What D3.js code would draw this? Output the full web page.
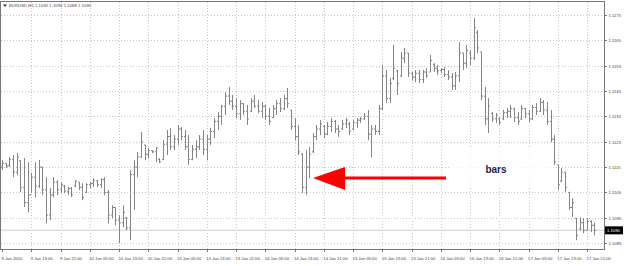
<!DOCTYPE html>
<html>
<head>
<meta charset="utf-8">
<script src="https://cdn.jsdelivr.net/npm/d3@7"></script>
<style>
  body { margin: 0; background: #fff; }
  svg { display: block; }
  .axis text { font-family: "Liberation Sans", Arial, sans-serif; font-size: 4.2px; fill: #444; }
  .axis path, .axis line { stroke: #777; shape-rendering: crispEdges; }
</style>
</head>
<body>
<script>
// EURUSD H1, 9 Jan 05:00 .. 17 Jan 23:00 (one entry per hourly bar)
const barOpen = [1.11150,1.11165,1.11155,1.11180,1.11130,1.11175,1.11070,1.11010,1.11040,1.11110,
1.11075,1.11150,1.11060,1.10960,1.11040,1.11090,1.11060,1.11075,1.11055,1.11065,
1.11075,1.11090,1.11070,1.11050,1.11080,1.11085,1.11095,1.11080,1.11100,1.11050,
1.10960,1.10990,1.10940,1.10930,1.10950,1.10910,1.11120,1.11150,1.11190,1.11237,
1.11200,1.11215,1.11210,1.11180,1.11180,1.11240,1.11270,1.11230,1.11260,1.11300,
1.11270,1.11230,1.11180,1.11220,1.11230,1.11260,1.11220,1.11260,1.11290,1.11330,
1.11350,1.11390,1.11430,1.11410,1.11390,1.11360,1.11400,1.11370,1.11370,1.11410,
1.11390,1.11370,1.11390,1.11350,1.11345,1.11380,1.11400,1.11380,1.11420,1.11375,
1.11310,1.11270,1.11200,1.11070,1.11150,1.11210,1.11270,1.11300,1.11310,1.11280,
1.11310,1.11330,1.11300,1.11300,1.11320,1.11320,1.11300,1.11325,1.11335,1.11340,
1.11350,1.11280,1.11300,1.11290,1.11380,1.11510,1.11420,1.11500,1.11530,1.11510,
1.11580,1.11600,1.11520,1.11505,1.11520,1.11495,1.11525,1.11525,1.11555,1.11540,
1.11530,1.11535,1.11515,1.11505,1.11470,1.11510,1.11600,1.11560,1.11600,1.11580,
1.11680,1.11604,1.11430,1.11340,1.11360,1.11340,1.11340,1.11340,1.11365,1.11370,
1.11380,1.11345,1.11340,1.11380,1.11360,1.11340,1.11385,1.11370,1.11405,1.11375,
1.11330,1.11260,1.11158,1.11095,1.11130,1.11050,1.10990,1.10948,1.10905,1.10930,
1.10900,1.10935,1.10920];

const barHigh = [1.11177,1.11165,1.11189,1.11197,1.11205,1.11177,1.11185,1.11169,1.11126,1.11169,
1.11177,1.11150,1.11110,1.11067,1.11110,1.11098,1.11090,1.11079,1.11071,1.11071,
1.11098,1.11090,1.11086,1.11086,1.11090,1.11106,1.11098,1.11106,1.11110,1.11059,
1.10999,1.10992,1.10960,1.10999,1.10952,1.11138,1.11177,1.11209,1.11288,1.11237,
1.11225,1.11217,1.11229,1.11185,1.11256,1.11296,1.11304,1.11276,1.11316,1.11308,
1.11296,1.11276,1.11237,1.11256,1.11276,1.11296,1.11276,1.11304,1.11343,1.11367,
1.11395,1.11446,1.11466,1.11434,1.11422,1.11414,1.11402,1.11395,1.11422,1.11434,
1.11414,1.11407,1.11395,1.11383,1.11395,1.11414,1.11422,1.11434,1.11462,1.11375,
1.11343,1.11316,1.11205,1.11217,1.11229,1.11284,1.11316,1.11336,1.11316,1.11328,
1.11343,1.11336,1.11316,1.11336,1.11343,1.11328,1.11336,1.11343,1.11347,1.11363,
1.11375,1.11316,1.11316,1.11395,1.11553,1.11533,1.11501,1.11632,1.11533,1.11604,
1.11620,1.11600,1.11525,1.11533,1.11533,1.11533,1.11541,1.11592,1.11560,1.11553,
1.11541,1.11545,1.11533,1.11521,1.11525,1.11643,1.11600,1.11632,1.11612,1.11738,
1.11691,1.11604,1.11466,1.11422,1.11367,1.11363,1.11347,1.11375,1.11383,1.11395,
1.11383,1.11367,1.11395,1.11383,1.11375,1.11395,1.11402,1.11422,1.11414,1.11407,
1.11375,1.11276,1.11158,1.11146,1.11130,1.11051,1.11027,1.10948,1.10952,1.10948,
1.10948,1.10940,1.10930];

const barLow = [1.11138,1.11146,1.11150,1.11110,1.11118,1.11051,1.10992,1.10972,1.11047,1.11031,
1.11067,1.11039,1.10928,1.10940,1.11031,1.11039,1.11047,1.11047,1.11039,1.11031,
1.11071,1.11059,1.11019,1.11047,1.11067,1.11071,1.11071,1.11067,1.11039,1.10928,
1.10948,1.10920,1.10849,1.10912,1.10901,1.10861,1.10980,1.11110,1.11185,1.11177,
1.11185,1.11205,1.11169,1.11165,1.11177,1.11197,1.11217,1.11217,1.11237,1.11256,
1.11217,1.11158,1.11177,1.11185,1.11217,1.11197,1.11177,1.11237,1.11264,1.11296,
1.11316,1.11355,1.11395,1.11375,1.11343,1.11336,1.11355,1.11316,1.11367,1.11383,
1.11363,1.11343,1.11336,1.11316,1.11343,1.11355,1.11367,1.11375,1.11383,1.11296,
1.11256,1.11197,1.11047,1.11039,1.11106,1.11205,1.11256,1.11276,1.11264,1.11276,
1.11288,1.11284,1.11268,1.11296,1.11304,1.11276,1.11296,1.11304,1.11324,1.11336,
1.11256,1.11189,1.11276,1.11276,1.11375,1.11402,1.11402,1.11493,1.11434,1.11505,
1.11560,1.11505,1.11493,1.11485,1.11481,1.11481,1.11501,1.11525,1.11525,1.11513,
1.11521,1.11505,1.11493,1.11454,1.11454,1.11485,1.11533,1.11541,1.11553,1.11572,
1.11600,1.11414,1.11316,1.11284,1.11328,1.11324,1.11316,1.11336,1.11343,1.11343,
1.11328,1.11316,1.11336,1.11343,1.11328,1.11336,1.11355,1.11367,1.11355,1.11316,
1.11248,1.11158,1.11059,1.11090,1.11051,1.10980,1.10952,1.10861,1.10901,1.10889,
1.10901,1.10893,1.10880];

const barClose = [1.11165,1.11155,1.11180,1.11130,1.11190,1.11070,1.11010,1.11040,1.11110,1.11075,
1.11150,1.11060,1.10960,1.11040,1.11090,1.11060,1.11080,1.11055,1.11065,1.11040,
1.11095,1.11070,1.11030,1.11080,1.11085,1.11095,1.11080,1.11100,1.11050,1.10960,
1.10990,1.10940,1.10930,1.10970,1.10910,1.11120,1.11150,1.11190,1.11250,1.11200,
1.11215,1.11210,1.11225,1.11170,1.11240,1.11270,1.11230,1.11260,1.11300,1.11270,
1.11230,1.11180,1.11220,1.11230,1.11260,1.11220,1.11260,1.11290,1.11330,1.11350,
1.11390,1.11430,1.11410,1.11390,1.11360,1.11400,1.11370,1.11340,1.11410,1.11390,
1.11370,1.11390,1.11350,1.11330,1.11380,1.11400,1.11380,1.11420,1.11400,1.11310,
1.11270,1.11210,1.11070,1.11150,1.11200,1.11270,1.11300,1.11320,1.11280,1.11310,
1.11330,1.11300,1.11290,1.11320,1.11335,1.11290,1.11325,1.11335,1.11340,1.11350,
1.11280,1.11300,1.11290,1.11380,1.11510,1.11420,1.11480,1.11540,1.11480,1.11580,
1.11600,1.11520,1.11505,1.11520,1.11495,1.11525,1.11510,1.11570,1.11540,1.11530,
1.11535,1.11515,1.11505,1.11470,1.11510,1.11600,1.11560,1.11610,1.11580,1.11700,
1.11620,1.11430,1.11340,1.11390,1.11340,1.11355,1.11325,1.11365,1.11370,1.11380,
1.11345,1.11330,1.11380,1.11360,1.11340,1.11385,1.11370,1.11405,1.11375,1.11330,
1.11260,1.11170,1.11080,1.11130,1.11070,1.10990,1.11010,1.10880,1.10930,1.10900,
1.10935,1.10920,1.10900];

// time axis: a label every 8 bars
const tickBars = [0, 8, 16, 24, 32, 40, 48, 56, 64, 72, 80, 88, 96, 104, 112, 120, 128, 136, 144, 152, 160];
const tickLabels = ["9 Jan 2020", "9 Jan 13:00", "9 Jan 21:00", "10 Jan 05:00", "10 Jan 13:00", "10 Jan 21:00",
  "13 Jan 05:00", "13 Jan 13:00", "13 Jan 21:00", "14 Jan 05:00", "14 Jan 13:00", "14 Jan 21:00",
  "15 Jan 05:00", "15 Jan 13:00", "15 Jan 21:00", "16 Jan 05:00", "16 Jan 13:00", "16 Jan 21:00",
  "17 Jan 05:00", "17 Jan 13:00", "17 Jan 21:00"];
const priceTicks = [1.1085, 1.1095, 1.1105, 1.1115, 1.1125, 1.1135, 1.1145, 1.1155, 1.1165, 1.1175];

const symbol = "EURUSD,H1";
const lastPrice = 1.1090;

const width = 624, height = 266;
const plotLeft = 1, plotRight = 604, plotTop = 2, plotBottom = 249;

const svg = d3.select("body").append("svg")
  .attr("width", width)
  .attr("height", height);

const bars = barOpen.map((o, i) => ({ i: i, o: o, h: barHigh[i], l: barLow[i], c: barClose[i] }));

const x = d3.scaleLinear().domain([0, bars.length - 1]).range([2, 594.4]);
const y = d3.scaleLinear().domain([1.1085, 1.1175]).range([243, 15]);
const px = v => Math.round(v) + 0.5;

// grid
let grid = svg.append("g").attr("stroke", "#c6c6c6").attr("stroke-dasharray", "1,2")
  .attr("shape-rendering", "crispEdges");
grid.selectAll(".hgrid").data(priceTicks).join("line")
  .attr("x1", plotLeft).attr("x2", plotRight)
  .attr("y1", d => px(y(d))).attr("y2", d => px(y(d)));
grid.selectAll(".vgrid").data(tickBars.slice(1)).join("line")
  .attr("x1", d => px(x(d))).attr("x2", d => px(x(d)))
  .attr("y1", plotTop).attr("y2", plotBottom);

// bid line
svg.append("line")
  .attr("x1", plotLeft).attr("x2", plotRight)
  .attr("y1", y(lastPrice)).attr("y2", y(lastPrice))
  .attr("stroke", "#dedede").attr("stroke-width", 1.5);

// OHLC bars
svg.append("g").selectAll("path").data(bars).join("path")
  .attr("d", d => {
    let cx = px(x(d.i));
    return `M${cx},${y(d.h)}V${y(d.l)}M${cx - 1.5},${y(d.o)}H${cx}M${cx},${y(d.c)}H${cx + 1.5}`;
  })
  .attr("fill", "none")
  .attr("stroke", "#858585")
  .attr("stroke-width", 1);

// frame
svg.append("rect")
  .attr("x", 0.5).attr("y", plotTop - 0.5)
  .attr("width", plotRight - 0.5).attr("height", plotBottom - plotTop + 0.5)
  .attr("fill", "none").attr("stroke", "#777").attr("shape-rendering", "crispEdges");

// price axis
let yAxis = svg.append("g").attr("class", "axis")
  .attr("transform", `translate(${plotRight + 0.5},0)`)
  .call(d3.axisRight(y).tickValues(priceTicks).tickFormat(d3.format(".4f")).tickSize(2).tickPadding(2));
yAxis.select(".domain").remove();

// time axis
let xAxis = svg.append("g").attr("class", "axis")
  .attr("transform", `translate(0,${plotBottom + 0.5})`)
  .call(d3.axisBottom(x).tickValues(tickBars).tickFormat((d, i) => tickLabels[i]).tickSize(2).tickPadding(6));
xAxis.select(".domain").remove();
xAxis.selectAll("text").attr("text-anchor", "start").attr("dx", -1);

// current price tag
svg.append("rect")
  .attr("x", plotRight + 1).attr("y", y(lastPrice) - 4)
  .attr("width", 18).attr("height", 8)
  .attr("fill", "#000");
svg.append("text")
  .attr("x", plotRight + 3).attr("y", y(lastPrice) + 1.5)
  .attr("font-family", "Liberation Sans, Arial, sans-serif")
  .attr("font-size", 4.2).attr("fill", "#fff")
  .text(d3.format(".4f")(lastPrice));

// title line
let last = bars[bars.length - 1];
svg.append("path").attr("d", "M3,4.5H7L5,7Z").attr("fill", "#333");
svg.append("text")
  .attr("x", 9).attr("y", 7)
  .attr("font-family", "Liberation Sans, Arial, sans-serif")
  .attr("font-size", 4.3).attr("fill", "#444")
  .text(`${symbol}  ${[last.o, last.h, last.l, last.c].map(d3.format(".4f")).join(" ")}`);

// annotation box and arrow
svg.append("rect")
  .attr("x", 450).attr("y", 147)
  .attr("width", 102).attr("height", 40)
  .attr("fill", "#fff").attr("fill-opacity", 0.75);
svg.append("text")
  .attr("x", 496).attr("y", 173)
  .attr("text-anchor", "middle")
  .attr("font-family", "Liberation Sans, Arial, sans-serif")
  .attr("font-weight", "bold").attr("font-size", 10)
  .attr("fill", "#23235a")
  .text("bars");

svg.append("line")
  .attr("x1", 446).attr("x2", 340)
  .attr("y1", 178).attr("y2", 178)
  .attr("stroke", "#ff0000").attr("stroke-width", 3);
svg.append("path")
  .attr("d", "M313,178L345,167L345,190Z")
  .attr("fill", "#ff0000");
</script>
</body>
</html>
